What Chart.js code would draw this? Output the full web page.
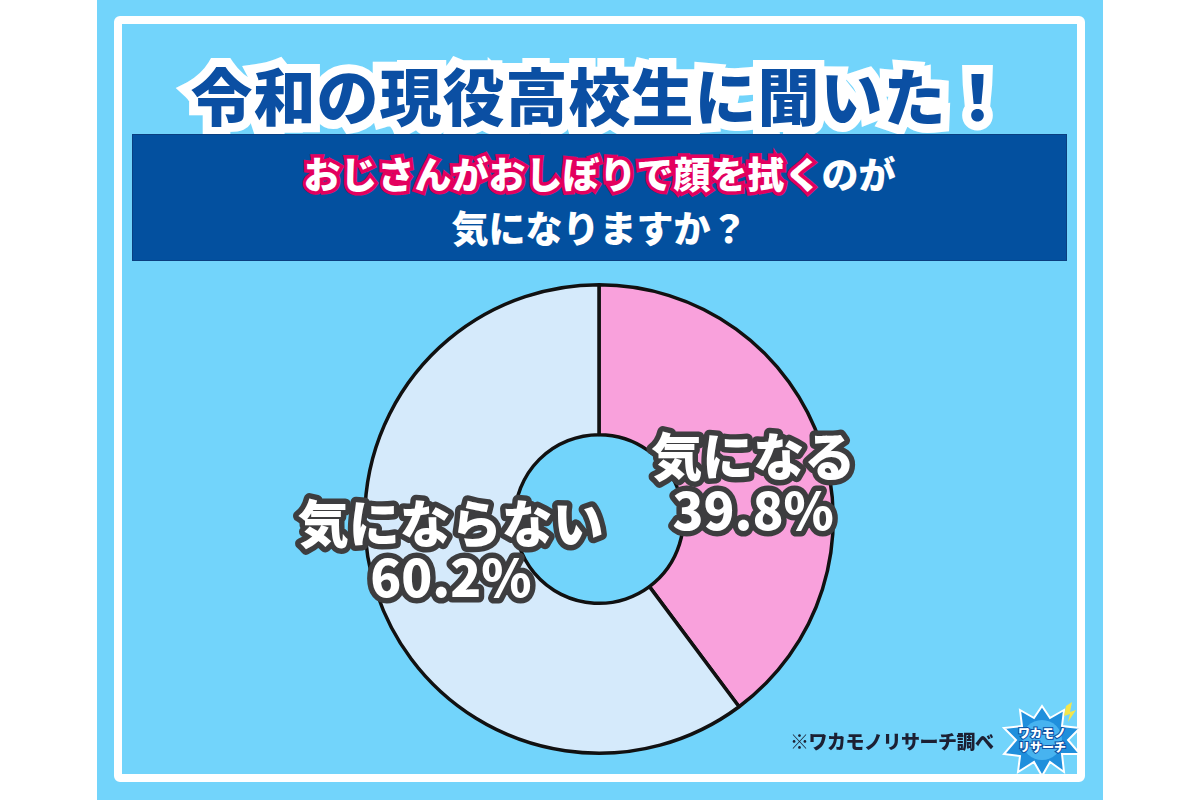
<!DOCTYPE html>
<html lang="ja">
<head>
<meta charset="utf-8">
<script src="https://cdn.jsdelivr.net/npm/chart.js@4"></script>
<style>
  html, body { margin: 0; padding: 0; background: #fff; }
  body { width: 1200px; height: 800px; position: relative; overflow: hidden;
         font-family: "Noto Sans CJK JP", "Noto Sans", sans-serif; }
  .bg { position: absolute; left: 97px; top: 0; width: 1006px; height: 800px; background: #72d4fb; }
  .frame { position: absolute; left: 114px; top: 16px; width: 955px; height: 750px;
           border: 8px solid #fff; border-radius: 6px; }
  .title { position: absolute; left: 97px; width: 1006px; top: 54px; text-align: center;
           font-size: 62px; font-weight: 900; color: #0b4fa3; line-height: 80px;
           -webkit-text-stroke: 18px #fff; paint-order: stroke fill; letter-spacing: 1px; }
  .banner { position: absolute; left: 132px; top: 134px; width: 935px; height: 127px;
            background: #03509f; border: 1px solid #0a3f80; box-sizing: border-box; }
  .q { position: absolute; left: 132px; width: 935px; text-align: center; font-size: 37px;
       font-weight: 900; color: #fff; line-height: 50px; }
  .q1 { top: 148px; }
  .q2 { top: 202px; }
  .pink { -webkit-text-stroke: 7px #e3005e; paint-order: stroke fill; }
  #wrap { position: absolute; left: 199px; top: 279px; width: 800px; height: 480px; }
  .src { position: absolute; left: 790px; top: 727px; font-size: 19px; font-weight: 900;
         color: #1c2033; letter-spacing: -0.5px; }
  .logo { position: absolute; left: 1000px; top: 700px; width: 84px; height: 80px; }
</style>
</head>
<body>
<div class="bg"></div>
<div class="frame"></div>
<div class="title">令和の現役高校生に聞いた！</div>
<div class="banner"></div>
<div class="q q1"><span class="pink">おじさんがおしぼりで顔を拭く</span>のが</div>
<div class="q q2">気になりますか？</div>
<div id="wrap"><canvas id="donut" width="800" height="480"></canvas></div>
<div class="src">※ワカモノリサーチ調べ</div>
<svg class="logo" viewBox="0 0 84 80">
  <polygon points="42,6 50,18 64,10 62,26 80,28 68,40 80,54 62,54 64,72 50,62 42,76 34,62 18,72 20,56 4,54 16,40 4,28 22,26 20,10 34,18"
           fill="#1f8fdc" stroke="#ffffff" stroke-width="2"/>
  <circle cx="42" cy="40" r="20" fill="#47b3f0"/>
  <polygon points="66,6 72,2 70,12 76,10 68,22 70,14 64,16" fill="#f5e64a"/>
  <text x="42" y="38" text-anchor="middle" font-size="12" font-weight="900" fill="#fff"
        stroke="#0b4fa3" stroke-width="2" paint-order="stroke">ワカモノ</text>
  <text x="42" y="52" text-anchor="middle" font-size="12" font-weight="900" fill="#fff"
        stroke="#0b4fa3" stroke-width="2" paint-order="stroke">リサーチ</text>
</svg>
<script>
// survey answers
const answers = ['気になる', '気にならない'];
const shares = [39.8, 60.2];
const sliceColors = ['#f9a1dc', '#d5eafb'];

// white text with dark outline, drawn at each slice's center
const sliceLabels = {
  id: 'sliceLabels',
  afterDatasetsDraw(chart) {
    const ctx = chart.ctx;
    const arcs = chart.getDatasetMeta(0).data;
    ctx.save();
    ctx.textAlign = 'center';
    ctx.textBaseline = 'middle';
    ctx.lineJoin = 'round';
    arcs.forEach((arc, i) => {
      const p = arc.tooltipPosition();
      const lines = [answers[i], shares[i].toFixed(1) + '%'];
      const y0 = i === 0 ? p.y - 12 : p.y - 46;
      lines.forEach((t, k) => {
        ctx.font = '900 51px "Noto Sans CJK JP", sans-serif';
        const y = y0 + k * 54;
        ctx.lineWidth = 11;
        ctx.strokeStyle = '#3d3d3f';
        ctx.strokeText(t, p.x + 3, y);
        ctx.fillStyle = '#ffffff';
        ctx.fillText(t, p.x + 3, y);
      });
    });
    ctx.restore();
  }
};

new Chart(document.getElementById('donut'), {
  type: 'doughnut',
  data: {
    labels: answers,
    datasets: [{
      data: shares,
      backgroundColor: sliceColors,
      borderColor: '#111111',
      borderWidth: 3.5,
      borderAlign: 'center'
    }]
  },
  options: {
    responsive: false,
    animation: false,
    cutout: '36%',
    layout: { padding: { top: 4, bottom: 4, left: 164, right: 164 } },
    plugins: {
      legend: { display: false },
      tooltip: { enabled: false }
    }
  },
  plugins: [sliceLabels]
});
</script>
</body>
</html>
